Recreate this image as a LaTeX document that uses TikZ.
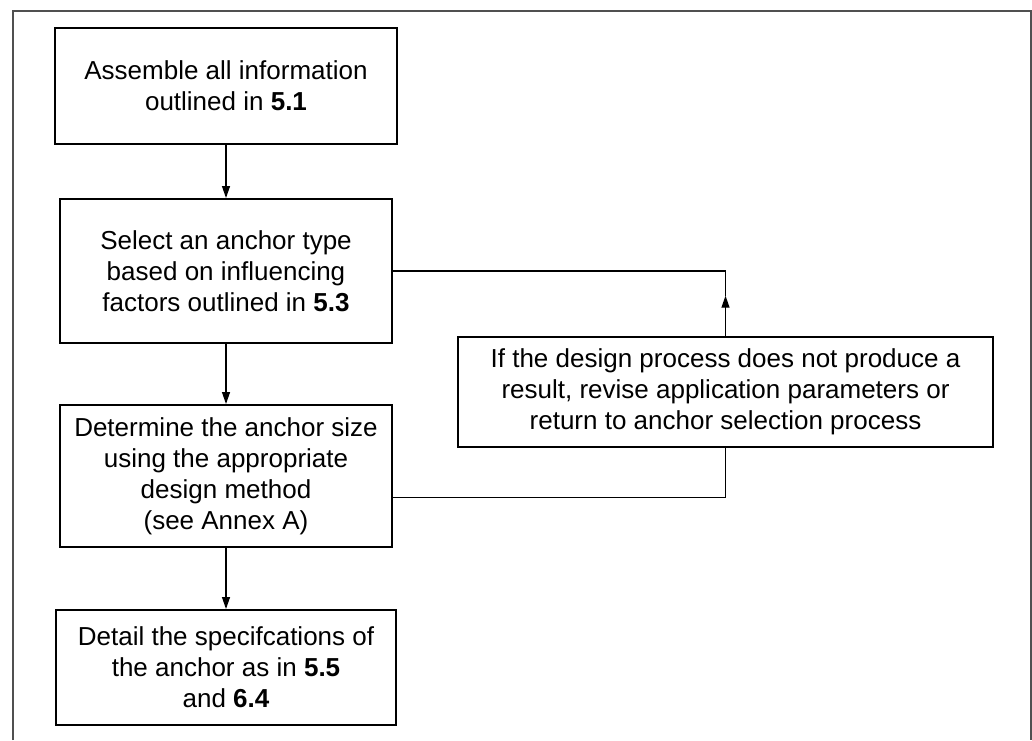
\documentclass[tikz,border=0pt]{standalone}
\usepackage{fontspec}
\setmainfont{Liberation Sans}
\usetikzlibrary{arrows.meta,calc}

\tikzset{
  stepbox/.style={draw=black, line width=2pt, rectangle, inner sep=0pt,
    align=center, text=black, font=\fontsize{26}{31}\selectfont},
  link/.style={draw=black, line width=1.3pt},
  flow/.style={link, -{Triangle[length=12pt,width=8pt]}},
  frameline/.style={draw={rgb,255:red,80;green,80;blue,80}, line width=2pt}
}

\begin{document}
\begin{tikzpicture}[x=1pt,y=-1pt]
  \useasboundingbox (0,0) rectangle (1032,740);

  % outer frame (open at the bottom)
  \draw[frameline] (13,740) -- (13,11) -- (1031,11) -- (1031,740);

  % process steps
  \node[stepbox, minimum width=342pt, minimum height=116pt] (assemble) at (226,86)
    {Assemble all information\\outlined in \textbf{5.1}};
  \node[stepbox, minimum width=332pt, minimum height=144pt] (select) at (226,271)
    {Select an anchor type\\based on influencing\\factors outlined in \textbf{5.3}};
  \node[stepbox, minimum width=332pt, minimum height=142pt] (size) at (226,476)
    {Determine the anchor size\\using the appropriate\\design method\\(see Annex A)};
  \node[stepbox, minimum width=340pt, minimum height=115pt] (detail) at (226,667.5)
    {Detail the specifcations of\\the anchor as in \textbf{5.5}\\and \textbf{6.4}};
  \node[stepbox, minimum width=535pt, minimum height=110pt] (revise) at (725.5,392)
    {If the design process does not produce a\\result, revise application parameters or\\return to anchor selection process};

  % main flow
  \draw[flow] (assemble.south) -- (select.north);
  \draw[flow] (select.south) -- (size.north);
  \draw[flow] (size.south) -- (detail.north);

  % feedback loop
  \coordinate (sizeout) at ($(size.south east)!0.352!(size.north east)$);
  \draw[link] (sizeout) -| (revise.south);
  \coordinate (loopcorner) at (revise.north |- select.east);
  \coordinate (looptip) at ($(revise.north)!0.62!(loopcorner)$);
  \draw[flow] (revise.north) -- (looptip);
  \draw[link] (looptip) -- (loopcorner) -- (select.east);
\end{tikzpicture}
\end{document}
